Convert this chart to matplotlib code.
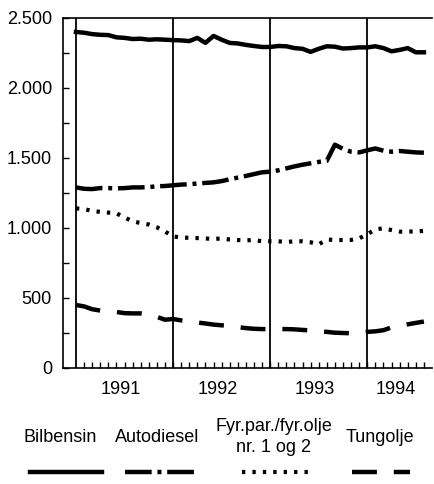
import matplotlib
matplotlib.use('Agg')
import matplotlib.pyplot as plt
from matplotlib.ticker import FuncFormatter, FixedLocator
import numpy as np

plt.rcParams['font.family'] = ['Liberation Sans', 'DejaVu Sans']

# monthly values, Jan 1991 - Aug 1994
months = np.arange(44)
bilbensin = [2400, 2395, 2385, 2380, 2378, 2362, 2358, 2350, 2352, 2345, 2348, 2345,
             2342, 2340, 2335, 2358, 2322, 2372, 2345, 2322, 2318, 2308, 2300, 2293,
             2293, 2300, 2298, 2285, 2280, 2258, 2280, 2298, 2295, 2282, 2285, 2290,
             2290, 2298, 2285, 2262, 2272, 2285, 2255, 2255]
autodiesel = [1290, 1280, 1278, 1285, 1285, 1283, 1285, 1290, 1290, 1292, 1298, 1300,
              1305, 1310, 1312, 1318, 1322, 1326, 1335, 1348, 1360, 1372, 1385, 1398,
              1402, 1412, 1426, 1440, 1452, 1462, 1472, 1480, 1595, 1565, 1545, 1540,
              1555, 1568, 1552, 1545, 1550, 1545, 1540, 1538]
fyrolje = [1140, 1135, 1122, 1115, 1110, 1105, 1075, 1048, 1035, 1025, 1005, 975,
           940, 932, 930, 928, 925, 922, 925, 918, 914, 912, 914, 905,
           905, 905, 900, 905, 905, 898, 883, 918, 914, 914, 915, 926,
           955, 990, 998, 985, 974, 974, 976, 979]
tungolje = [450, 440, 420, 410, 405, 400, 392, 390, 390, 385, 365, 345,
            350, 340, 332, 325, 318, 310, 305, 300, 292, 285, 280, 278,
            278, 278, 278, 276, 272, 268, 262, 258, 252, 250, 248, 250,
            258, 262, 270, 290, 302, 312, 322, 332]
years = ['1991', '1992', '1993', '1994']
year_pos = [5.5, 17.5, 29.5, 39.5]
labels = ['Bilbensin', 'Autodiesel', 'Fyr.par./fyr.olje\nnr. 1 og 2', 'Tungolje']

styles = [
    dict(ls='-', lw=3.2),
    dict(ls=(0, (6.0, 1.3, 0.9, 1.3)), lw=3.2),
    dict(ls=(0, (0.8, 1.7)), lw=3.0),
    dict(ls=(0, (5.6, 3.8)), lw=3.2),
]

fs = 13

fig = plt.figure(figsize=(4.34, 4.84), dpi=100)
ax = fig.add_axes([63/434, 1-368/484, 369/434, 350/484])

for y, st in zip([bilbensin, autodiesel, fyrolje, tungolje], styles):
    ax.plot(months, y, color='black', linestyle=st['ls'], linewidth=st['lw'])

for yr in [0, 12, 24, 36]:
    ax.axvline(yr, color='black', lw=1.3)

ax.set_xlim(-1.6, 44)
ax.set_ylim(0, 2500)
ax.spines['right'].set_visible(False)
for s in ['left', 'bottom', 'top']:
    ax.spines[s].set_linewidth(1.2)

ax.yaxis.set_major_locator(FixedLocator([0, 500, 1000, 1500, 2000, 2500]))
ax.yaxis.set_minor_locator(FixedLocator([250, 750, 1250, 1750, 2250]))
ax.yaxis.set_major_formatter(FuncFormatter(lambda v, p: f'{int(v):,}'.replace(',', '.')))
ax.xaxis.set_major_locator(FixedLocator(year_pos))
ax.set_xticklabels(years)
ax.xaxis.set_minor_locator(FixedLocator(months[1:]))
ax.tick_params(axis='x', which='major', length=0, pad=9, labelsize=fs)
ax.tick_params(axis='x', which='minor', direction='in', length=4, width=1)
ax.tick_params(axis='y', which='both', direction='in', length=4, width=1, pad=8, labelsize=fs)

# legend area in pixel coordinates
lg = fig.add_axes([0, 0, 1, 1], zorder=-1)
lg.set_xlim(0, 434)
lg.set_ylim(484, 0)
lg.axis('off')
text_x = [60, 157, 274, 380]
samp = [(30, 102), (125, 198), (242, 312), (352, 410)]
for lab, tx, (x0, x1), st in zip(labels, text_x, samp, styles):
    lg.text(tx, 437, lab, ha='center', va='center', fontsize=fs, linespacing=1.25)
    lg.plot([x0, x1], [472, 472], color='black', linestyle=st['ls'], linewidth=st['lw'])

fig.savefig('out.png', dpi=100)
